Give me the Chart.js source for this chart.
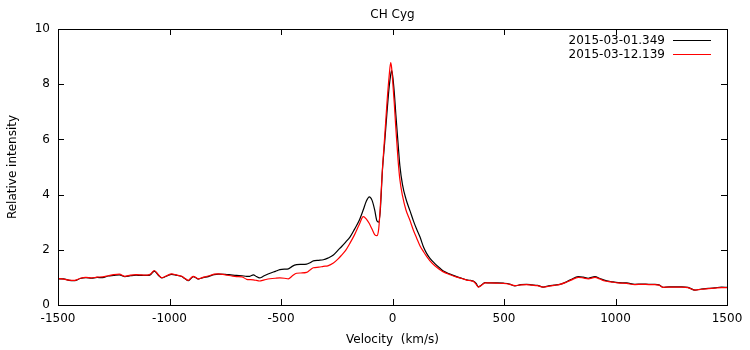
<!DOCTYPE html>
<html>
<head>
<meta charset="utf-8">
<script src="https://cdn.jsdelivr.net/npm/chart.js@4"></script>
<style>
  body { margin: 0; background: #fff; }
  #wrap { width: 750px; height: 350px; }
</style>
</head>
<body>
<div id="wrap"><canvas id="canvas" width="750" height="350"></canvas></div>
<script>
const chartTitle = "CH Cyg";
const seriesNames = ["2015-03-01.349", "2015-03-12.139"];
const seriesColors = ["#000000", "#ff0000"];

const velocity = [
  -1500,-1475,-1450,-1425,-1400,-1375,-1350,-1325,-1300,-1275,-1250,-1225,-1200,-1175,-1150,-1125,
  -1100,-1085,-1068,-1050,-1035,-1015,-990,-970,-945,-930,-916,-905,-893,-880,-871,-850,-826,-800,
  -781,-750,-725,-700,-675,-654,-640,-624,-610,-597,-575,-549,-525,-505,-485,-467,-450,-430,-410,
  -385,-370,-355,-330,-310,-290,-265,-245,-228,-210,-190,-170,-150,-131,-118,-104,-92,-80,-70,-62,
  -55,-45,-35,-25,-15,-8,-4,0,8,15,25,33,45,60,79,95,108,123,140,153,168,190,213,228,258,288,310,
  333,350,362,375,385,395,415,440,470,497,525,549,575,601,625,650,676,700,725,751,775,800,833,855,
  878,908,930,953,980,1012,1050,1087,1120,1150,1177,1195,1214,1240,1270,1297,1325,1356,1385,1416,
  1445,1476,1500
];

const intensity0301 = [
  0.95,0.95,0.89,0.88,0.96,0.99,0.97,1.00,0.99,1.05,1.07,1.09,1.03,1.06,1.08,1.07,
  1.07,1.10,1.23,1.08,0.98,1.04,1.11,1.08,1.03,0.95,0.88,0.95,1.03,0.98,0.94,0.99,1.03,1.10,
  1.12,1.11,1.09,1.07,1.06,1.04,1.04,1.09,1.03,0.98,1.06,1.15,1.22,1.28,1.30,1.31,1.40,1.46,1.47,
  1.48,1.53,1.60,1.62,1.64,1.70,1.81,1.98,2.12,2.28,2.47,2.75,3.05,3.45,3.75,3.92,3.80,3.45,3.05,3.00,
  3.40,4.90,5.90,6.95,7.90,8.35,8.49,8.35,7.70,6.90,5.85,5.05,4.35,3.85,3.40,3.02,2.75,2.47,2.08,1.87,1.69,1.50,1.33,1.23,1.12,1.03,0.97,
  0.91,0.89,0.87,0.78,0.66,0.70,0.81,0.80,0.80,0.79,0.76,0.69,0.74,0.75,0.73,0.71,0.65,0.69,0.72,0.75,0.82,0.92,1.03,1.01,
  0.97,1.03,0.96,0.89,0.85,0.81,0.80,0.75,0.76,0.75,0.75,0.73,0.64,0.66,0.66,0.66,0.64,0.54,0.58,0.60,
  0.62,0.65,0.64
];

const intensity0312 = [
  0.96,0.94,0.90,0.89,0.97,1.00,0.98,1.01,1.02,1.06,1.10,1.12,1.04,1.08,1.10,1.09,
  1.08,1.12,1.25,1.10,0.99,1.05,1.13,1.09,1.04,0.96,0.89,0.97,1.04,0.99,0.95,1.00,1.05,1.12,
  1.13,1.09,1.06,1.03,1.02,0.93,0.92,0.91,0.89,0.87,0.91,0.95,0.97,0.98,0.97,0.95,1.05,1.15,1.16,
  1.18,1.27,1.35,1.37,1.40,1.42,1.52,1.66,1.81,1.98,2.25,2.55,2.90,3.20,3.12,2.95,2.75,2.55,2.51,2.75,
  3.50,4.95,6.10,7.30,8.30,8.78,8.60,8.20,7.30,6.40,5.25,4.55,3.95,3.45,3.05,2.68,2.43,2.15,1.92,1.76,1.60,1.42,1.28,1.20,1.10,1.01,0.96,
  0.90,0.88,0.86,0.75,0.65,0.69,0.80,0.80,0.79,0.78,0.75,0.70,0.73,0.74,0.72,0.70,0.65,0.68,0.71,0.75,0.81,0.90,1.00,0.98,
  0.95,1.00,0.94,0.87,0.84,0.80,0.78,0.74,0.75,0.74,0.74,0.72,0.64,0.65,0.65,0.65,0.63,0.54,0.57,0.59,
  0.61,0.63,0.63
];

const xTicks = [-1500, -1000, -500, 0, 500, 1000, 1500];
const yTicks = [0, 2, 4, 6, 8, 10];

const font = "DejaVu Sans";

function toPoints(ys) {
  return velocity.map((v, i) => ({ x: v, y: ys[i] }));
}

// gnuplot style frame: box, inward mirrored ticks, legend inside, title
const framePlugin = {
  id: "frame",
  afterDraw(chart) {
    const ctx = chart.ctx;
    const a = chart.chartArea;
    const xs = chart.scales.x;
    const ys = chart.scales.y;
    const len = 6;
    ctx.save();
    ctx.strokeStyle = "#000";
    ctx.lineWidth = 1;
    ctx.strokeRect(Math.round(a.left) + 0.5, Math.round(a.top) + 0.5,
      Math.round(a.right - a.left), Math.round(a.bottom - a.top));
    ctx.beginPath();
    xTicks.forEach((t) => {
      const px = Math.round(xs.getPixelForValue(t)) + 0.5;
      ctx.moveTo(px, a.bottom); ctx.lineTo(px, a.bottom - len);
      ctx.moveTo(px, a.top); ctx.lineTo(px, a.top + len);
    });
    yTicks.forEach((t) => {
      const py = Math.round(ys.getPixelForValue(t)) + 0.5;
      ctx.moveTo(a.left, py); ctx.lineTo(a.left + len, py);
      ctx.moveTo(a.right, py); ctx.lineTo(a.right - len, py);
    });
    ctx.stroke();

    // title
    ctx.fillStyle = "#000";
    ctx.font = "12px '" + font + "'";
    ctx.textAlign = "center";
    ctx.textBaseline = "middle";
    ctx.fillText(chartTitle, (a.left + a.right) / 2, 15);

    // legend
    ctx.textAlign = "right";
    seriesNames.forEach((name, i) => {
      const y = 40 + i * 13.5;
      ctx.fillStyle = "#000";
      ctx.fillText(name, 665, y + 1);
      ctx.strokeStyle = seriesColors[i];
      ctx.lineWidth = 1.2;
      ctx.beginPath();
      ctx.moveTo(673, Math.round(y) + 0.5);
      ctx.lineTo(711, Math.round(y) + 0.5);
      ctx.stroke();
    });
    ctx.restore();
  }
};

const ctx = document.getElementById("canvas");
new Chart(ctx, {
  type: "line",
  data: {
    datasets: [
      {
        label: seriesNames[0],
        data: toPoints(intensity0301),
        borderColor: seriesColors[0],
        borderWidth: 1.2,
        pointRadius: 0,
        cubicInterpolationMode: "monotone",
        order: 1
      },
      {
        label: seriesNames[1],
        data: toPoints(intensity0312),
        borderColor: seriesColors[1],
        borderWidth: 1.2,
        pointRadius: 0,
        cubicInterpolationMode: "monotone",
        order: 0
      }
    ]
  },
  options: {
    responsive: false,
    animation: false,
    layout: { padding: { top: 29, right: 23, left: 0, bottom: 0 } },
    plugins: {
      legend: { display: false },
      title: { display: false },
      tooltip: { enabled: false }
    },
    scales: {
      x: {
        type: "linear",
        min: -1500,
        max: 1500,
        afterBuildTicks: (s) => { s.ticks = xTicks.map((v) => ({ value: v })); },
        afterFit: (s) => { s.height = 45; },
        grid: { display: false, drawTicks: false },
        border: { display: false },
        ticks: {
          color: "#000",
          padding: 7,
          maxRotation: 0,
          font: { family: font, size: 12 },
          callback: (v) => String(v)
        },
        title: {
          display: true,
          text: "Velocity  (km/s)",
          color: "#000",
          padding: { top: 0, bottom: 3 },
          font: { family: font, size: 12 }
        }
      },
      y: {
        min: 0,
        max: 10,
        afterBuildTicks: (s) => { s.ticks = yTicks.map((v) => ({ value: v })); },
        afterFit: (s) => { s.width = 58; },
        grid: { display: false, drawTicks: false },
        border: { display: false },
        ticks: {
          color: "#000",
          padding: 8,
          font: { family: font, size: 12 },
          callback: (v) => String(v)
        },
        title: {
          display: true,
          text: "Relative intensity",
          color: "#000",
          padding: { top: 6, bottom: 0 },
          font: { family: font, size: 12 }
        }
      }
    }
  },
  plugins: [framePlugin]
});
</script>
</body>
</html>
